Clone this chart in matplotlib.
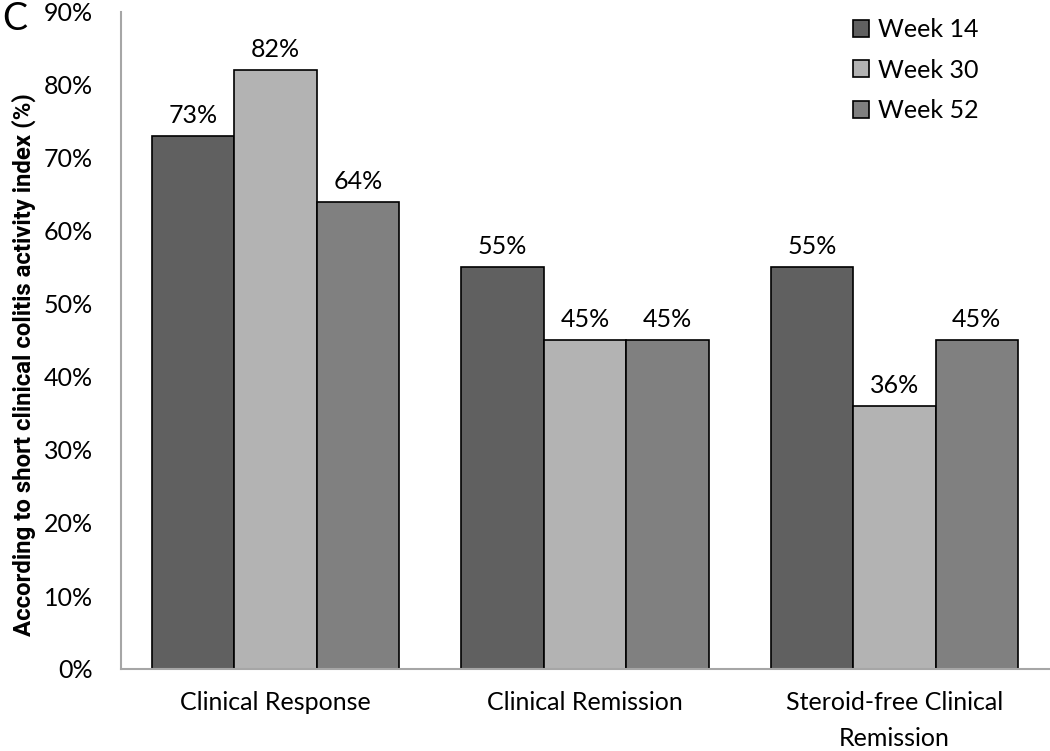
import matplotlib
matplotlib.use("Agg")
import matplotlib.pyplot as plt
import numpy as np

categories = ["Clinical Response", "Clinical Remission", "Steroid-free Clinical\nRemission"]
series_names = ["Week 14", "Week 30", "Week 52"]
week14 = [73, 55, 55]
week30 = [82, 45, 36]
week52 = [64, 45, 45]
colors = ["#606060", "#b3b3b3", "#808080"]
yticks = [0, 10, 20, 30, 40, 50, 60, 70, 80, 90]

plt.rcParams['font.family'] = ['Lato', 'DejaVu Sans']

fig = plt.figure(figsize=(10.5, 7.51), dpi=100)
ax = fig.add_axes([121/1050, 1 - 669/751, (1049-121)/1050, (669-12)/751])

x = np.arange(len(categories))
w = 0.8 / 3
for i, (name, vals) in enumerate(zip(series_names, [week14, week30, week52])):
    bars = ax.bar(x + (i - 1) * w, vals, width=w, color=colors[i], edgecolor="black",
                  linewidth=1.2, label=name, zorder=2)
    for b, v in zip(bars, vals):
        ax.annotate(f"{v}%", (b.get_x() + b.get_width() / 2, v), xytext=(0, 9.5),
                    textcoords="offset points", ha="center", va="baseline",
                    fontsize=18, color="black")

ax.set_xlim(-0.5, 2.5)
ax.set_ylim(0, 90)
ax.set_yticks(yticks)
ax.set_yticklabels([f"{t}%" for t in yticks], fontsize=18)
ax.set_xticks(x)
ax.set_xticklabels(categories, fontsize=18, linespacing=1.65)
ax.tick_params(axis="both", length=0)
ax.tick_params(axis="y", pad=20)
ax.tick_params(axis="x", pad=16)
for s in ["top", "right"]:
    ax.spines[s].set_visible(False)
for s in ["left", "bottom"]:
    ax.spines[s].set_color("#a6a6a6")
    ax.spines[s].set_linewidth(1.5)

fig.text(24/1050, 1 - 365/751, "According to short clinical colitis activity index (%)",
         fontsize=17.3, fontweight="bold", rotation=90, ha="center", va="center",
         family=["Roboto", "DejaVu Sans"])

leg = fig.legend(loc="upper left", bbox_to_anchor=(853/1050, 1 - 18/751),
                 bbox_transform=fig.transFigure, frameon=False, fontsize=18,
                 borderpad=0, borderaxespad=0,
                 handlelength=0.65, handleheight=0.65, handletextpad=0.35, labelspacing=0.7)

fig.text(2/1050, 1 - 19/751, "C", fontsize=27, va="center", ha="left")

fig.savefig("out.png", dpi=100)
